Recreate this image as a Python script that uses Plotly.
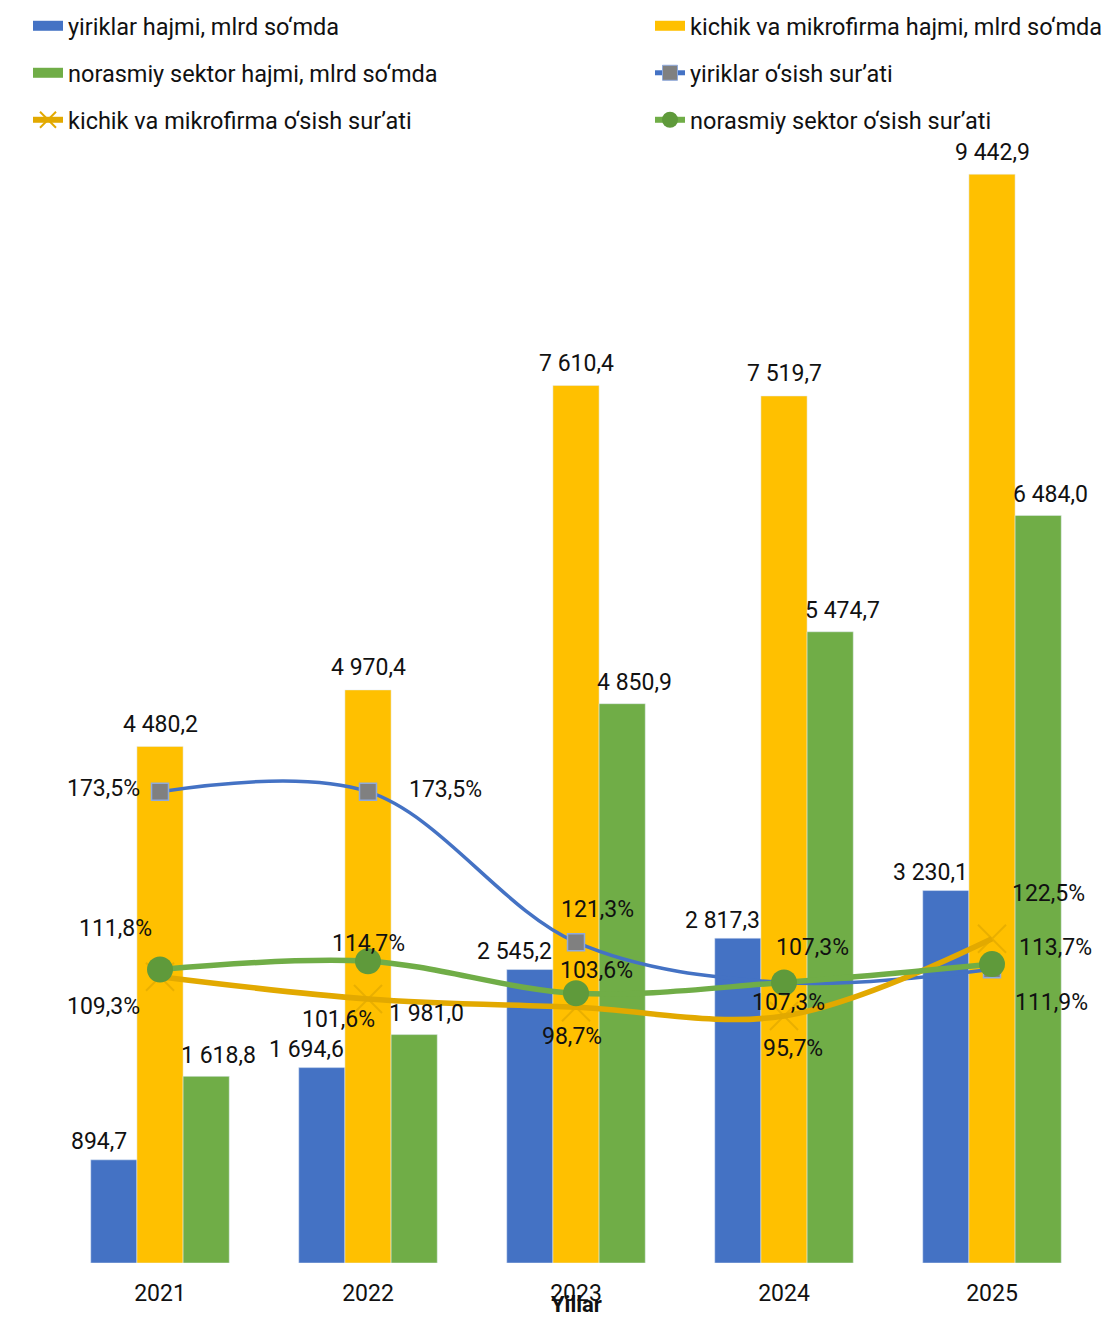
import plotly.graph_objects as go

years = ["2021", "2022", "2023", "2024", "2025"]
yiriklar_hajmi = [894.7, 1694.6, 2545.2, 2817.3, 3230.1]
kichik_hajmi = [4480.2, 4970.4, 7610.4, 7519.7, 9442.9]
norasmiy_hajmi = [1618.8, 1981.0, 4850.9, 5474.7, 6484.0]
yiriklar_osish = [173.5, 173.5, 121.3, 107.3, 111.9]
kichik_osish = [109.3, 101.6, 98.7, 95.7, 122.5]
norasmiy_osish = [111.8, 114.7, 103.6, 107.3, 113.7]

names = ["yiriklar hajmi, mlrd so‘mda", "kichik va mikrofirma hajmi, mlrd so‘mda",
         "norasmiy sektor hajmi, mlrd so‘mda", "yiriklar o‘sish sur’ati",
         "kichik va mikrofirma o‘sish sur’ati", "norasmiy sektor o‘sish sur’ati"]

FONT = "Roboto, sans-serif"
BLUE, YEL, GRN = "#4472C4", "#FFC000", "#70AD47"
YLINE = "#E2A900"

W, H, BODY = 1098, 1311, 8
xi = list(range(len(years)))
BW = 0.222


def fmt_num(v):
    return f"{v:,.1f}".replace(",", " ").replace(".", ",")


def fmt_pct(v):
    return f"{v:.1f}".replace(".", ",") + "%"


fig = go.Figure()
annotations = []

# bars
bar_specs = [(yiriklar_hajmi, BLUE, -1.5 * BW, -15, 18),
             (kichik_hajmi, YEL, -0.5 * BW, 0, 22),
             (norasmiy_hajmi, GRN, 0.5 * BW, 12, 21)]
for vals, col, off, dx, dy in bar_specs:
    fig.add_trace(go.Bar(x=xi, y=vals, marker_color=col, width=BW, offset=off,
                         showlegend=False, hoverinfo="y"))
    for i, v in zip(xi, vals):
        annotations.append(dict(x=i + off + BW / 2, y=v, xref="x", yref="y", text=fmt_num(v),
                                showarrow=False, xanchor="center", yanchor="middle",
                                xshift=dx, yshift=dy, font=dict(size=23, color="#111")))

# lines
fig.add_trace(go.Scatter(x=xi, y=yiriklar_osish, yaxis="y2", showlegend=False,
                         mode="lines+markers", line=dict(color=BLUE, width=3.5, shape="spline"),
                         marker=dict(symbol="square", size=17, color="#808080",
                                     line=dict(color="#8FAADC", width=1.5))))
fig.add_trace(go.Scatter(x=xi, y=kichik_osish, yaxis="y2", showlegend=False,
                         mode="lines+markers", line=dict(color=YLINE, width=5.5, shape="spline"),
                         marker=dict(symbol="x-thin", size=28, color=YLINE,
                                     line=dict(color="rgba(226,169,0,0.75)", width=2))))
fig.add_trace(go.Scatter(x=xi, y=norasmiy_osish, yaxis="y2", showlegend=False,
                         mode="lines+markers", line=dict(color=GRN, width=5.5, shape="spline"),
                         marker=dict(symbol="circle", size=26, color="#5F9A3B")))

# line labels: offsets (px) relative to markers
line_label_offsets = {
    "y": [(-57, -3), (77, -2), (21, -33), (4, 20), (59, 33)],
    "k": [(-57, 30), (-30, 21), (-4, 29), (9, 33), (56, -45)],
    "n": [(-45, -41), (0, -18), (20, -23), (28, -35), (63, -17)],
}
for key, vals in [("y", yiriklar_osish), ("k", kichik_osish), ("n", norasmiy_osish)]:
    for i, v, (dx, dy) in zip(xi, vals, line_label_offsets[key]):
        annotations.append(dict(x=i, y=v, xref="x", yref="y2", text=fmt_pct(v),
                                showarrow=False, xanchor="center", yanchor="middle",
                                xshift=dx, yshift=-dy, font=dict(size=23, color="#111")))

# legend-only entries (one legend per entry to get the 2x3 grid)
legend_entries = [
    (names[0], dict(mode="lines", line=dict(color=BLUE, width=14))),
    (names[1], dict(mode="lines", line=dict(color=YEL, width=14))),
    (names[2], dict(mode="lines", line=dict(color=GRN, width=14))),
    (names[3], dict(mode="lines+markers", line=dict(color=BLUE, width=5),
                    marker=dict(symbol="square", size=15, color="#808080",
                                line=dict(color="#8FAADC", width=1)))),
    (names[4], dict(mode="lines+markers", line=dict(color=YLINE, width=6),
                    marker=dict(symbol="x-thin", size=16, line=dict(color=YLINE, width=2)))),
    (names[5], dict(mode="lines+markers", line=dict(color=GRN, width=6),
                    marker=dict(symbol="circle", size=16, color="#5F9A3B"))),
]
legend_pos = [(68, 26), (690, 26), (68, 73), (690, 73), (68, 120), (690, 120)]
legend_layouts = {}
for k, ((nm, style), (tx, ty)) in enumerate(zip(legend_entries, legend_pos)):
    lname = "legend" if k == 0 else f"legend{k + 1}"
    fig.add_trace(go.Scatter(x=[None], y=[None], name=nm, legend=lname, showlegend=True,
                             hoverinfo="skip", **style))
    legend_layouts[lname] = dict(
        xref="container", yref="container",
        x=(tx - 40 - BODY) / W, y=1 - (ty - BODY) / H,
        xanchor="left", yanchor="middle", orientation="h",
        font=dict(size=23.5, family=FONT, color="#111"), bgcolor="rgba(0,0,0,0)",
        itemwidth=30)

annotations.append(dict(text="<b>Yillar</b>", xref="paper", yref="paper", x=0.5,
                        y=-(1304 - 1263) / 1153, showarrow=False, yanchor="middle",
                        font=dict(size=22, color="#111")))

fig.update_layout(
    width=W, height=H,
    margin=dict(l=48, r=10, t=102, b=56, autoexpand=False),
    paper_bgcolor="white", plot_bgcolor="white",
    font=dict(family=FONT, size=22, color="#111"),
    xaxis=dict(range=[-0.5, len(years) - 0.5], tickvals=xi, ticktext=years,
               showline=False, showgrid=False, zeroline=False, ticks="",
               ticklabelstandoff=14, tickfont=dict(size=23)),
    yaxis=dict(range=[0, 10000], visible=False, showgrid=False),
    yaxis2=dict(range=[10, 410], overlaying="y", visible=False, showgrid=False),
    annotations=annotations,
    **legend_layouts,
)

fig.write_html("out.html")
